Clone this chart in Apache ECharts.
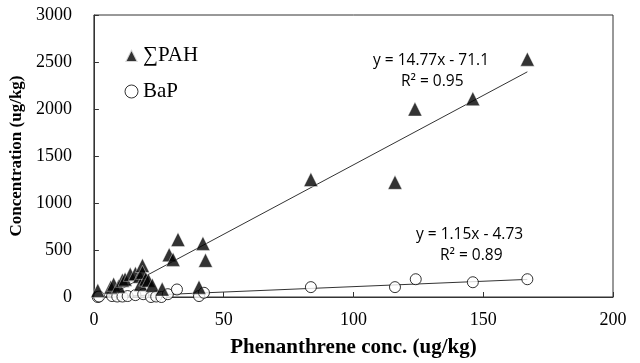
<!DOCTYPE html>
<html>
<head>
<meta charset="utf-8">
<script src="https://cdn.jsdelivr.net/npm/echarts@6/dist/echarts.min.js"></script>
<style>
  html, body { margin: 0; padding: 0; background: #fff; }
  #chart { width: 640px; height: 363px; }
</style>
</head>
<body>
<div id="chart"></div>
<script>
// PAH (triangles)
const pahX = [1.5, 6.5, 7.6, 9.5, 11, 12, 14, 16, 17.6, 18, 18.7, 18.7, 20, 21, 22.5, 26.3, 29, 30.5, 32.4, 40.5, 42, 43, 83.6, 116, 123.7, 146, 167];
const pahY = [70, 105, 136, 115, 178, 190, 241, 250, 220, 136, 335, 262, 190, 178, 126, 84, 450, 400, 612, 105, 570, 390, 1250, 1220, 2000, 2110, 2530];

// BaP (open circles)
const bapX = [1.5, 2, 7, 9, 11, 13, 16, 19, 22, 24, 26, 28.5, 32, 40.5, 42.4, 83.6, 116, 124, 146, 167];
const bapY = [0, 5, 10, 5, 5, 10, 20, 30, 0, 5, 0, 30, 80, 10, 45, 105, 105, 189, 157, 189];

// trend lines: slope, intercept, x range
const pahFit = { slope: 14.77, intercept: -71.1, from: 4.8, to: 167 };
const bapFit = { slope: 1.15, intercept: -4.73, from: 4.1, to: 167 };

const xTicks = [0, 50, 100, 150, 200];
const yTicks = [0, 500, 1000, 1500, 2000, 2500, 3000];

const pts = (xs, ys) => xs.map((x, i) => [x, ys[i]]);
const fitLine = (f) => [f.from, f.to].map((x) => [x, f.slope * x + f.intercept]);

const serif = '"Liberation Serif", "Times New Roman", serif';
const sans = '"Open Sans", sans-serif';

const tickLabel = {
  color: '#000',
  fontFamily: serif,
  fontSize: 18,
  formatter: (v) => String(v),
};

const chart = echarts.init(document.getElementById('chart'));

chart.setOption({
  backgroundColor: '#fff',
  animation: false,
  textStyle: { fontFamily: serif },
  grid: { left: 90, right: 27, top: 15, bottom: 63, show: true, borderColor: '#333', borderWidth: 1 },
  legend: {
    orient: 'vertical',
    left: 119,
    top: 40,
    itemGap: 15,
    itemWidth: 13,
    itemHeight: 13,
    textStyle: { fontFamily: serif, fontSize: 21, color: '#000' },
    data: [
      { name: '∑PAH', icon: 'triangle' },
      { name: 'BaP', icon: 'circle', itemStyle: { borderWidth: 1 } },
    ],
  },
  xAxis: {
    type: 'value',
    min: xTicks[0],
    max: xTicks[xTicks.length - 1],
    interval: 50,
    name: 'Phenanthrene conc. (ug/kg)',
    nameLocation: 'middle',
    nameGap: 40,
    nameTextStyle: { fontFamily: serif, fontSize: 21, fontWeight: 'bold', color: '#000' },
    axisLine: { lineStyle: { color: '#333', width: 1 } },
    axisTick: { show: true, inside: true, length: 5, lineStyle: { color: '#333' } },
    axisLabel: Object.assign({ margin: 14 }, tickLabel),
    splitLine: { show: false },
  },
  yAxis: {
    type: 'value',
    min: yTicks[0],
    max: yTicks[yTicks.length - 1],
    interval: 500,
    name: 'Concentration (ug/kg)',
    nameLocation: 'middle',
    nameGap: 65,
    nameTextStyle: { fontFamily: serif, fontSize: 17, fontWeight: 'bold', color: '#000' },
    axisLine: { show: true, lineStyle: { color: '#333', width: 1 } },
    axisTick: { show: true, inside: true, length: 5, lineStyle: { color: '#333' } },
    axisLabel: Object.assign({ margin: 22 }, tickLabel),
    splitLine: { show: false },
  },
  series: [
    {
      name: 'pahFit',
      type: 'line',
      data: fitLine(pahFit),
      showSymbol: false,
      lineStyle: { color: '#333', width: 1 },
      silent: true,
      z: 1,
    },
    {
      name: 'bapFit',
      type: 'line',
      data: fitLine(bapFit),
      showSymbol: false,
      lineStyle: { color: '#333', width: 1 },
      silent: true,
      z: 1,
    },
    {
      name: 'BaP',
      type: 'scatter',
      data: pts(bapX, bapY),
      symbol: 'circle',
      symbolSize: 11,
      itemStyle: { color: '#fff', borderColor: '#000', borderWidth: 1 },
      z: 2,
    },
    {
      name: '∑PAH',
      type: 'scatter',
      data: pts(pahX, pahY),
      symbol: 'triangle',
      symbolSize: 14,
      itemStyle: { color: '#000', borderColor: '#fff', borderWidth: 0.5 },
      z: 3,
    },
  ],
  graphic: [
    { type: 'text', left: 373, top: 53, style: { text: 'y = 14.77x - 71.1', font: '15.5px ' + sans, fill: '#000' } },
    { type: 'text', left: 401, top: 74, style: { text: 'R² = 0.95', font: '15.5px ' + sans, fill: '#000' } },
    { type: 'text', left: 416, top: 227, style: { text: 'y = 1.15x - 4.73', font: '15.5px ' + sans, fill: '#000' } },
    { type: 'text', left: 440, top: 248, style: { text: 'R² = 0.89', font: '15.5px ' + sans, fill: '#000' } },
  ],
});
</script>
</body>
</html>
